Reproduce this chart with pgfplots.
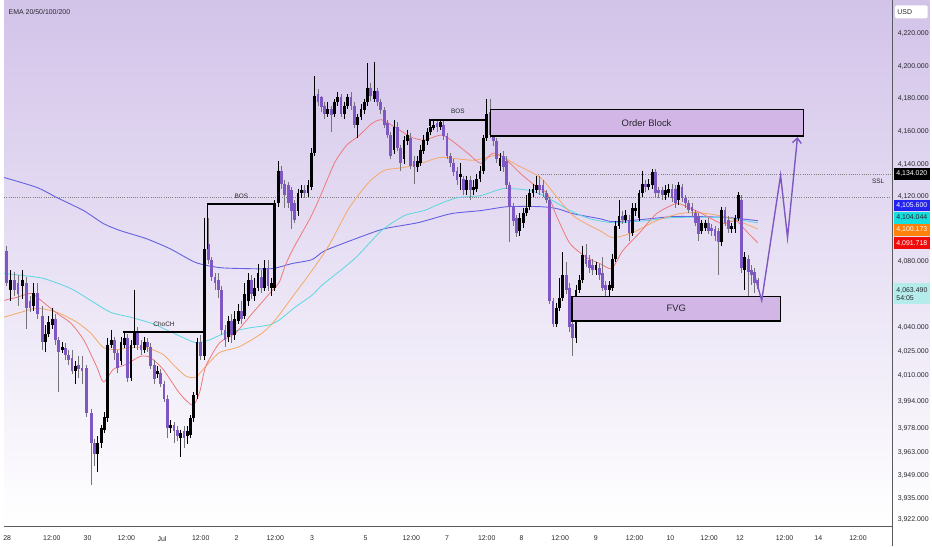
\documentclass[border=0pt]{standalone}
\usepackage{pgfplots}
\pgfplotsset{compat=1.18}
\usepackage{pgfplotstable}
\usepackage{fontspec}
\setmainfont{Liberation Sans}
\usetikzlibrary{arrows.meta,backgrounds}

\definecolor{bgtop}{RGB}{210,195,233}
\definecolor{cpurple}{RGB}{126,87,194}
\definecolor{ema20}{RGB}{240,120,120}
\definecolor{ema50}{RGB}{246,168,100}
\definecolor{ema100}{RGB}{90,215,225}
\definecolor{ema200}{RGB}{100,96,225}
\definecolor{blockfill}{RGB}{210,182,229}
\definecolor{axisgray}{RGB}{90,90,95}
\definecolor{labelgray}{RGB}{40,40,45}
\definecolor{wickgray}{RGB}{115,115,120}

% up (black) candles: x o h l c
\pgfplotstableread{
x o h l c
6.7 4063 4075 4056 4069
18.7 4065 4075 4057 4069
29.3 4053 4067 4050 4061
41.7 4031 4041 4025 4036
45 4036 4047 4034 4043
48.3 4041 4052 4039 4045
58.7 4026 4031 4024 4028
71.7 4013 4019 4005 4016
94.3 3962 3973 3951 3969
97.7 3969 3980 3966 3978
101 3977 3988 3975 3985
104.3 3984 4033 3982 4029
107.7 4029 4038 4027 4032
117.7 4019 4034 4017 4031
121 4029 4037 4027 4033
127.7 4009 4032 4007 4029
131 4029 4063 4027 4037
141 4026 4034 4024 4031
154.3 4011 4016 4009 4013
167.7 3978 3983 3975 3980
177.7 3972 3977 3960 3975
184.3 3973 3979 3968 3976
187.7 3974 3986 3972 3984
191 3984 4000 3982 3998
194.3 3998 4033 3996 4031
201.5 4022 4107 4020 4088
225.7 4034 4047 4031 4044
232.3 4035 4050 4032 4045
235.7 4044 4054 4042 4050
242.3 4047 4067 4045 4060
245.7 4056 4073 4053 4069
252.3 4059 4070 4056 4064
255.7 4064 4079 4062 4073
262.3 4064 4081 4062 4076
269 4064 4070 4059 4067
272.5 4064 4118 4062 4116
276 4116 4142 4114 4136
296 4111 4125 4108 4122
299.3 4122 4127 4119 4124
306 4122 4130 4120 4127
309.3 4126 4150 4124 4147
312.7 4147 4194 4145 4182
326 4171 4178 4169 4174
332.7 4171 4180 4169 4178
336 4178 4184 4176 4181
342.7 4171 4178 4168 4176
346 4176 4183 4174 4181
356 4164 4171 4156 4169
359.3 4169 4177 4167 4174
362.7 4173 4180 4171 4178
366 4178 4202 4176 4187
372.7 4180 4203 4178 4185
392.7 4149 4167 4146 4163
402.7 4143 4157 4140 4155
406 4154 4161 4152 4158
416 4138 4145 4135 4142
419.3 4141 4152 4139 4149
422.7 4148 4158 4146 4155
426 4154 4162 4152 4160
429.3 4160 4165 4158 4163
432.7 4162 4167 4161 4164
439.3 4163 4168 4161 4166
459.3 4132 4141 4124 4134
466 4124 4133 4121 4130
472.7 4124 4130 4121 4126
476 4125 4134 4123 4131
479.3 4131 4139 4129 4136
482.7 4136 4158 4134 4156
486 4156 4180 4154 4171
499.3 4139 4147 4136 4144
519.3 4099 4110 4096 4107
522.7 4104 4113 4101 4110
526 4110 4121 4108 4113
529.3 4114 4125 4112 4122
532.7 4122 4128 4120 4125
536 4124 4133 4122 4127
556 4042 4055 4040 4052
559.3 4052 4070 4050 4058
562.7 4058 4086 4056 4072
576 4033 4066 4030 4063
579.3 4063 4072 4061 4069
582.7 4069 4090 4067 4084
596 4075 4080 4072 4078
609.3 4063 4068 4056 4066
612.7 4064 4085 4062 4082
616 4082 4105 4080 4102
619.3 4102 4118 4100 4108
626 4106 4112 4104 4109
632.7 4098 4116 4096 4113
636 4111 4116 4108 4113
639.3 4107 4124 4105 4122
642.7 4122 4136 4120 4128
649.3 4126 4131 4124 4128
652.7 4127 4137 4125 4135
666 4121 4127 4118 4124
669.3 4122 4128 4120 4125
679.3 4118 4129 4115 4127
702.7 4099 4106 4097 4104
706 4101 4106 4099 4104
722.7 4092 4114 4090 4112
732.7 4100 4104 4098 4102
736 4100 4109 4098 4107
739.3 4107 4123 4105 4121
746 4075 4086 4063 4083
}\upbars

% down (purple) candles: x o h l c
\pgfplotstableread{
x o h l c
2.7 4087 4090 4065 4067
10 4069 4074 4059 4063
14 4067 4072 4053 4060
22.3 4067 4071 4039 4052
26 4056 4059 4049 4052
33.3 4061 4067 4045 4048
38.3 4047 4053 4026 4031
51.7 4045 4048 4029 4032
55 4032 4034 4000 4025
62 4027 4030 4020 4023
65 4023 4026 4017 4020
68.3 4021 4026 4011 4013
75 4017 4022 4009 4014
78.3 4015 4022 4005 4013
83 4015 4017 3985 3987
87.7 3987 3990 3943 3969
91 3969 3971 3955 3962
111 4032 4034 4020 4024
114.3 4024 4026 4012 4015
124.3 4033 4036 4006 4009
134.3 4037 4040 4026 4029
137.7 4029 4032 4023 4026
144.3 4031 4033 4025 4028
147.7 4028 4030 4014 4016
151 4017 4020 4005 4008
157.7 4012 4014 4003 4005
161 4005 4007 3994 3996
164.3 3996 3998 3972 3978
171 3980 3982 3969 3976
174.3 3977 3979 3970 3973
181 3976 3979 3966 3972
197.7 4031 4035 4020 4022
205.5 4091 4107 4079 4081
209 4081 4083 4068 4071
212.3 4071 4073 4063 4067
215.7 4069 4073 4058 4063
219 4063 4065 4035 4038
222.3 4038 4041 4028 4032
229 4044 4048 4030 4035
239 4050 4056 4042 4045
249 4069 4072 4057 4060
259 4071 4075 4061 4064
265.7 4076 4081 4062 4065
279.3 4136 4139 4125 4128
282.7 4128 4130 4113 4121
286 4127 4129 4113 4116
289.3 4124 4126 4100 4111
292.7 4116 4118 4104 4106
302.7 4124 4127 4119 4122
316 4183 4186 4176 4178
319.3 4181 4182 4172 4175
322.7 4176 4178 4168 4171
329.3 4174 4176 4160 4170
339.3 4181 4183 4169 4171
349.3 4181 4184 4173 4176
352.7 4176 4178 4162 4164
369.3 4187 4190 4179 4182
376 4185 4187 4176 4178
379.3 4178 4180 4171 4173
382.7 4173 4175 4162 4164
386 4165 4167 4156 4158
389.3 4158 4160 4143 4145
396 4163 4166 4148 4150
399.3 4150 4152 4136 4141
409.3 4156 4159 4137 4139
412.7 4142 4145 4128 4138
436 4165 4167 4160 4163
442.7 4164 4167 4155 4157
446 4157 4159 4143 4145
449.3 4145 4147 4138 4141
452.7 4141 4143 4133 4135
456 4136 4138 4127 4130
462.7 4131 4133 4121 4124
469.3 4130 4133 4118 4124
489.3 4172 4180 4156 4158
492.7 4158 4160 4151 4154
496 4154 4156 4141 4143
502.7 4145 4148 4135 4138
506 4142 4145 4125 4127
509.3 4127 4129 4092 4114
512.7 4114 4116 4102 4105
516 4107 4109 4095 4098
539.3 4127 4133 4121 4124
542.7 4127 4130 4120 4122
546 4122 4124 4116 4118
549.3 4118 4120 4054 4056
552.7 4056 4058 4040 4042
566 4072 4080 4060 4063
569.3 4064 4067 4037 4040
572.7 4042 4044 4022 4033
586 4084 4091 4077 4079
589.3 4081 4084 4073 4076
592.7 4078 4082 4072 4075
599.3 4076 4079 4069 4072
602.7 4073 4083 4062 4064
606 4066 4068 4055 4063
622.7 4108 4111 4103 4106
629.3 4106 4109 4093 4098
646 4128 4130 4123 4126
656 4135 4137 4120 4122
659.3 4124 4126 4119 4122
662.7 4124 4126 4118 4121
672.7 4125 4128 4117 4119
676 4125 4127 4113 4116
682.7 4126 4128 4117 4119
686 4119 4121 4113 4116
689.3 4116 4118 4110 4112
692.7 4114 4116 4108 4111
696 4110 4112 4102 4104
699.3 4108 4110 4093 4097
709.3 4104 4107 4097 4099
712.7 4101 4103 4096 4099
716 4100 4102 4093 4096
719.3 4099 4101 4072 4092
726 4112 4114 4102 4104
729.3 4106 4108 4098 4100
742.7 4118 4121 4073 4076
749.3 4082 4084 4059 4074
752.7 4075 4078 4066 4072
756 4074 4076 4061 4067
759.3 4069 4070 4062 4063.49
}\downbars

\pgfplotsset{
  candle/.style 2 args={draw=none, mark=none, forget plot,
    error bars/.cd, y dir=minus, y explicit, error mark=none,
    error bar style={line width=#1, draw=#2, solid}},
}

\begin{document}
\begin{tikzpicture}
\begin{axis}[
  name=ax,
  scale only axis, width=895pt, height=530pt,
  xmin=0, xmax=895,
  ymin=3917.5, ymax=4240.5,
  axis line style={draw=none},
  tick style={draw=none},
  clip=false,
  xtick={3,48,84,123,159,198,234,273,310,364,410,446,486,521,560,596,635,671,710,741,786,820,860},
  xticklabels={28,12:00,30,12:00,Jul,12:00,2,12:00,3,5,12:00,7,12:00,8,12:00,9,12:00,10,12:00,12,12:00,14,12:00},
  ytick={4220,4200,4180,4160,4140,4120,4080,4040,4025,4010,3994,3978,3963,3949,3935,3922},
  yticklabels={{4,220.000},{4,200.000},{4,180.000},{4,160.000},{4,140.000},{4,120.000},{4,080.000},{4,040.000},{4,025.000},{4,010.000},{3,994.000},{3,978.000},{3,963.000},{3,949.000},{3,935.000},{3,922.000}},
  yticklabel pos=right,
  ticklabel style={font=\fontsize{7}{8}\selectfont, text=labelgray},
  xticklabel style={yshift=-6pt},
  yticklabel style={anchor=west, xshift=1.5pt},
]
% reference price lines
\addplot[gray, line width=0.5pt, dash pattern=on 0.8pt off 1.4pt] coordinates {(0,4119.5) (893,4119.5)};
\addplot[gray, line width=0.5pt, dash pattern=on 0.8pt off 1.4pt] coordinates {(538,4134.02) (893,4134.02)};

% EMA 200
\addplot[ema200, line width=0.9pt, smooth, tension=0.4] coordinates {
(0,4131.8) (33,4125.7) (53,4119.5) (80,4111.5) (100,4103.5) (117,4099.2) (143,4094.3) (167,4088.1)
(193,4079.6) (217,4076.5) (243,4075.9) (270,4075.9) (290,4079.0) (310,4081.4) (323,4086.9) (357,4094.9)
(383,4100.4) (417,4104.1) (450,4109.6) (480,4111.5) (507,4113.9) (540,4113.9) (557,4112.7) (573,4109.6)
(600,4106.5) (613,4104.7) (640,4105.9) (673,4107.8) (700,4107.8) (730,4107.2) (759,4105.3)};
% EMA 100
\addplot[ema100, line width=0.8pt, smooth, tension=0.4] coordinates {
(0,4072.9) (20,4071.6) (40,4069.8) (67,4063.7) (87,4056.4) (107,4049.1) (127,4046.1) (150,4042.0)
(170,4036.4) (193,4030.4) (207,4032.2) (223,4036.4) (247,4039.5) (267,4041.3) (277,4044.3) (293,4052.2)
(310,4059.5) (320,4065.6) (353,4082.0) (380,4099.2) (403,4108.4) (423,4111.5) (440,4116.0) (457,4119.5)
(480,4120.7) (503,4125.0) (530,4123.8) (547,4119.5) (570,4111.5) (590,4106.5) (613,4104.1) (647,4105.3)
(673,4107.2) (723,4107.2) (759,4104.0)};
% EMA 50
\addplot[ema50, line width=0.8pt, smooth, tension=0.4] coordinates {
(0,4046.1) (17,4049.1) (33,4051.6) (53,4049.1) (73,4043.1) (87,4036.4) (100,4027.4) (113,4026.2)
(127,4027.4) (143,4027.4) (160,4023.2) (170,4017.1) (183,4009.9) (193,4009.3) (203,4015.9) (217,4024.4)
(237,4028.0) (260,4036.4) (273,4044.3) (290,4058.3) (310,4074.7) (327,4090.0) (347,4112.7) (367,4128.7)
(383,4136.2) (403,4138.0) (423,4141.1) (440,4144.2) (473,4142.4) (497,4145.5) (517,4139.3) (540,4131.8)
(557,4119.5) (573,4108.4) (590,4102.2) (600,4099.2) (613,4094.9) (633,4098.0) (657,4105.3) (680,4109.6)
(700,4110.2) (730,4107.2) (759,4100.2)};
% EMA 20
\addplot[ema20, line width=0.8pt, smooth, tension=0.4] coordinates {
(0,4056.4) (13,4058.3) (27,4060.7) (37,4056.4) (53,4048.5) (67,4042.5) (80,4032.2) (93,4015.9)
(100,4006.3) (110,4014.1) (123,4017.1) (137,4022.0) (147,4021.4) (160,4014.1) (177,3999.1) (190,3992.0)
(197,4000.3) (203,4015.9) (217,4030.4) (233,4036.4) (250,4048.5) (270,4062.5) (277,4067.4) (283,4077.7)
(290,4086.9) (300,4097.9) (310,4109.0) (320,4122.6) (333,4141.1) (345,4151.7) (357,4157.3) (370,4164.8)
(380,4167.3) (393,4162.9) (410,4156.6) (423,4154.8) (440,4157.9) (450,4154.8) (467,4146.7) (480,4140.5)
(492,4146.7) (503,4144.2) (520,4134.3) (537,4125.7) (547,4122.0) (557,4107.2) (570,4091.2) (587,4082.6)
(600,4079.0) (612,4075.9) (623,4086.9) (640,4097.9) (657,4109.6) (677,4115.8) (690,4113.3) (703,4109.6)
(723,4103.5) (737,4105.3) (747,4099.2) (759,4091.7)};

% candle wicks
\addplot[candle={0.8pt}{black}]
  table[x=x, y=h, y error minus expr=\thisrow{h}-\thisrow{l}] {\upbars};
\addplot[candle={0.8pt}{wickgray}]
  table[x=x, y=h, y error minus expr=\thisrow{h}-\thisrow{l}] {\downbars};
% candle bodies
\addplot[candle={2.8pt}{black}]
  table[x=x, y=c, y error minus expr=\thisrow{c}-\thisrow{o}] {\upbars};
\addplot[candle={2.8pt}{cpurple}]
  table[x=x, y=o, y error minus expr=\thisrow{o}-\thisrow{c}] {\downbars};

% zones
\addplot[fill=blockfill, draw=black, line width=1.3pt] coordinates {(490,4173.5) (805,4173.5) (805,4157.3) (490,4157.3)} --cycle;
\addplot[fill=blockfill, draw=black, line width=1.3pt] coordinates {(572,4058.9) (782,4058.9) (782,4043.7) (572,4043.7)} --cycle;
\node[font=\fontsize{9.5}{11}\selectfont, text=labelgray] at (axis cs:647,4165.4) {Order Block};
\node[font=\fontsize{9.5}{11}\selectfont, text=labelgray] at (axis cs:677,4051.3) {FVG};

% structure lines
\addplot[black, line width=1.5pt] coordinates {(205,4088.2) (205,4115.5) (273,4115.5)};
\addplot[black, line width=1.5pt] coordinates {(120,4037.0) (201,4037.0)};
\addplot[black, line width=1.5pt] coordinates {(429,4163.5) (429,4167.25) (485,4167.25)};
\node[font=\fontsize{6.5}{8}\selectfont, text=labelgray] at (axis cs:239,4120.1) {BOS};
\node[font=\fontsize{6.5}{8}\selectfont, text=labelgray] at (axis cs:161,4041.9) {ChoCH};
\node[font=\fontsize{6.5}{8}\selectfont, text=labelgray] at (axis cs:457,4172.2) {BOS};
\node[font=\fontsize{6.5}{8}\selectfont, text=labelgray, anchor=east] at (axis cs:890,4129.4) {SSL};

% projected path
\addplot[cpurple, line width=1.4pt, -{Straight Barb[length=5pt,width=9pt]}] coordinates {(755,4073.5) (763,4056.4) (782,4133.1) (789,4094.9) (799,4156.6)};

% price scale markers
\node[anchor=west, fill=white, rounded corners=1.5pt, minimum width=33pt, minimum height=13pt, inner sep=1pt, font=\fontsize{7}{8}\selectfont, text=labelgray, text width=28pt, align=left] at (axis cs:897,4233.5) {USD};
\node[anchor=west, fill=black, text=white, minimum width=36pt, minimum height=11.5pt, inner sep=1pt, font=\fontsize{7}{8}\selectfont] at (axis cs:896,4134.02) {4,134.020};
\node[anchor=west, fill={rgb,255:red,35;green,35;blue,240}, text=white, minimum width=36pt, minimum height=11.5pt, inner sep=1pt, font=\fontsize{7}{8}\selectfont] at (axis cs:896,4114.5) {4,105.600};
\node[anchor=west, fill={rgb,255:red,20;green,222;blue,222}, text=labelgray, minimum width=36pt, minimum height=11.5pt, inner sep=1pt, font=\fontsize{7}{8}\selectfont] at (axis cs:896,4107.0) {4,104.044};
\node[anchor=west, fill={rgb,255:red,255;green,128;blue,10}, text=white, minimum width=36pt, minimum height=11.5pt, inner sep=1pt, font=\fontsize{7}{8}\selectfont] at (axis cs:896,4099.6) {4,100.173};
\node[anchor=west, fill={rgb,255:red,242;green,10;blue,10}, text=white, minimum width=36pt, minimum height=11.5pt, inner sep=1pt, font=\fontsize{7}{8}\selectfont] at (axis cs:896,4091.5) {4,091.718};
\node[anchor=west, fill={rgb,255:red,180;green,236;blue,236}, text=labelgray, minimum width=36pt, minimum height=21pt, inner sep=1.5pt, text width=31pt, align=left, font=\fontsize{7}{8.5}\selectfont] at (axis cs:896,4060.4) {4,063.490\\54:05};
\node[anchor=west, font=\fontsize{7}{8}\selectfont, text=labelgray] at (axis cs:1,4233.2) {EMA 20/50/100/200};
\end{axis}
\begin{scope}[on background layer]
\shade[top color=bgtop, bottom color=white] (ax.south west) rectangle ([xshift=37pt]ax.north east);
\end{scope}
\draw[axisgray, line width=0.9pt] (ax.south west) -- (ax.south east);
\draw[axisgray, line width=0.9pt] ([yshift=-20pt]ax.south east) -- (ax.north east);
\path[use as bounding box] ([yshift=-20pt]ax.south west) rectangle ([xshift=37pt]ax.north east);
\end{tikzpicture}
\end{document}
